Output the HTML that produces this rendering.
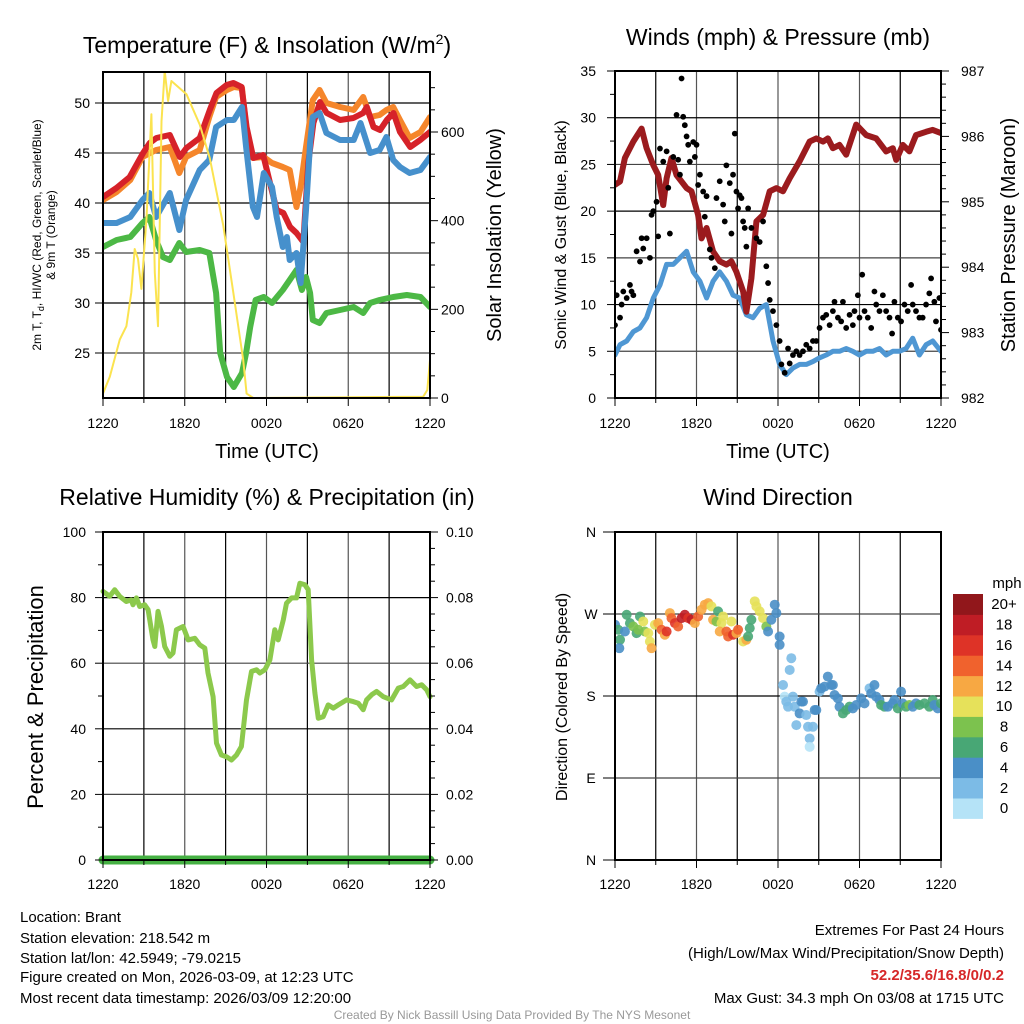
<!DOCTYPE html>
<html><head><meta charset="utf-8"><style>
html,body{margin:0;padding:0;background:#fff;}
svg{display:block;font-family:"Liberation Sans",sans-serif;}
</style></head><body>
<svg id="s" width="1024" height="1024" viewBox="0 0 1024 1024">
<defs>
<clipPath id="c1"><rect x="103" y="72" width="327" height="326"/></clipPath>
<clipPath id="c2"><rect x="615" y="71" width="326" height="327"/></clipPath>
<clipPath id="c3"><rect x="95" y="532" width="343" height="336"/></clipPath>
<clipPath id="c4"><rect x="615" y="532" width="326" height="328"/></clipPath>
</defs>
<text x="267" y="53" font-size="23" text-anchor="middle">Temperature (F) &amp; Insolation (W/m<tspan font-size="14" dy="-9">2</tspan><tspan dy="9">)</tspan></text>
<text x="778" y="45" font-size="23" text-anchor="middle">Winds (mph) &amp; Pressure (mb)</text>
<text x="267" y="505" font-size="23" text-anchor="middle">Relative Humidity (%) &amp; Precipitation (in)</text>
<text x="778" y="505" font-size="23" text-anchor="middle">Wind Direction</text>

<text transform="translate(41,235) rotate(-90)" font-size="12" text-anchor="middle">2m T, T<tspan font-size="9" dy="3">d</tspan><tspan dy="-3">, HI/WC (Red, Green, Scarlet/Blue)</tspan></text>
<text transform="translate(55,235) rotate(-90)" font-size="12" text-anchor="middle">&amp; 9m T (Orange)</text>
<text transform="translate(501,235) rotate(-90)" font-size="20" text-anchor="middle">Solar Insolation (Yellow)</text>
<text transform="translate(566,235) rotate(-90)" font-size="16" text-anchor="middle">Sonic Wind &amp; Gust (Blue, Black)</text>
<text transform="translate(1015,235) rotate(-90)" font-size="20" text-anchor="middle">Station Pressure (Maroon)</text>
<text transform="translate(43,697) rotate(-90)" font-size="22" text-anchor="middle">Percent &amp; Precipitation</text>
<text transform="translate(567,697) rotate(-90)" font-size="16" text-anchor="middle">Direction (Colored By Speed)</text>
<text x="267" y="458" font-size="20" text-anchor="middle">Time (UTC)</text>
<text x="778" y="458" font-size="20" text-anchor="middle">Time (UTC)</text>

<g font-size="15">
<text x="20" y="922">Location: Brant</text>
<text x="20" y="943">Station elevation: 218.542 m</text>
<text x="20" y="963">Station lat/lon: 42.5949; -79.0215</text>
<text x="20" y="982">Figure created on Mon, 2026-03-09, at 12:23 UTC</text>
<text x="20" y="1003">Most recent data timestamp: 2026/03/09 12:20:00</text>
</g>
<g font-size="15" text-anchor="end">
<text x="1004" y="935">Extremes For Past 24 Hours</text>
<text x="1004" y="958">(High/Low/Max Wind/Precipitation/Snow Depth)</text>
<text x="1004" y="980" fill="#d62728" font-weight="bold">52.2/35.6/16.8/0/0.2</text>
<text x="1004" y="1003">Max Gust: 34.3 mph On 03/08 at 1715 UTC</text>
</g>
<text x="512" y="1019" font-size="12" fill="#999" text-anchor="middle">Created By Nick Bassill Using Data Provided By The NYS Mesonet</text>
<g id="g"></g>
</svg>
<script>
// ---------- DATA ----------
const xTickLabels = ["1220","1820","0020","0620","1220"];
const redH = [0,0.98,1.96,2.94,3.43,3.92,4.9,5.64,6.13,7.1,7.84,8.33,9.07,9.56,10.17,10.54,11.03,11.76,12.38,12.75,13.24,13.73,14.2,14.7,15.07,15.44,15.93,16.42,17.4,18.38,19.1,19.36,19.85,20.34,20.83,21.32,21.8,22.55,23.28,24];
const redT = [40.6,41.5,42.6,45.0,46.0,46.5,46.8,44.6,45.5,46.5,49.3,51.0,51.8,52.0,51.6,47.6,44.5,44.8,41.3,39.3,39.0,37.6,37.0,36.1,44.0,48.0,50.1,49.0,48.3,48.5,49.0,49.6,47.6,47.3,48.3,49.0,47.1,45.6,46.3,47.1];
const orH = [0,1,2,2.9,3.9,4.9,5.6,6.1,7.1,7.8,8.3,9.1,9.6,10.2,10.5,11,11.8,12.4,13.2,13.7,14.2,14.5,14.9,15.4,15.9,16.4,17.4,18.4,19.1,19.6,20.3,20.8,21.3,21.8,22.5,23.3,24];
const orT = [40.3,41.1,42.3,44.6,45.3,45.6,43,44.6,45.3,48.6,50.6,51.3,51.6,51.5,47.6,44.5,44.6,44.0,43.6,43.3,39.6,41.6,45.6,50.3,51.3,50,49.6,49.3,50.6,48.6,48.8,49.3,49.6,48.3,46.5,47.1,48.6];
const blH = [0,1,2,2.9,3.4,3.9,4.9,5.6,6.1,7.1,7.8,8.3,9.1,9.6,10.2,10.5,11.0,11.3,11.8,12.4,12.75,13.2,13.5,13.7,14.2,14.5,14.9,15.2,15.4,15.9,16.4,17.4,18.4,18.9,19.6,20.3,20.8,21.3,21.8,22.5,23.3,24];
const blT = [38,38,38.6,40.3,41,38.6,41,37.3,40.3,43.3,44.3,47.6,48.3,48.3,49.6,45.6,39.6,38.6,43,41.6,38.6,35.6,36.6,34.3,35,32,39.3,46,48.6,49,47,46.3,46.3,48,45,45.3,46.6,44.3,43.6,43,43.3,44.6];
const grH = [0,1,2,2.9,3.4,3.9,4.4,4.9,5.6,6.1,7.1,7.8,8.3,8.6,9.1,9.6,10.2,10.5,10.8,11.2,11.8,12.4,13.2,13.7,14.2,14.6,14.9,15.2,15.4,15.9,16.4,17.4,18.4,19.1,19.6,20.3,21.3,22.3,23.3,24];
const grT = [35.6,36.3,36.6,38,38.6,36.3,34.6,34.3,36,35.1,35.3,35,31,25,22.6,21.6,23,25,27.6,30.3,30.6,30,31.3,32.3,33.3,31.3,32.6,31,28.3,28,29,29.3,29.6,29,30,30.3,30.6,30.8,30.6,29.6];
const solH = [0,0.5,1.23,1.72,2.08,2.33,2.57,2.82,3.19,3.55,3.8,4.04,4.29,4.53,4.78,5.02,6.13,7.1,7.84,8.82,9.56,10.29,10.54,11.03,23.5,23.8,24];
const solW = [10,48,132,162,238,336,314,246,405,640,283,162,624,738,670,715,685,617,541,390,238,86,10,0,3,18,86];
const tempTicks = [25,30,35,40,45,50];
const solTicks = [0,200,400,600];

const presH = [0,0.37,0.73,1.35,1.96,2.33,2.82,3.18,3.55,3.8,4.16,4.53,5.27,5.63,6.12,6.37,6.74,7.22,7.71,8.2,8.57,8.94,9.43,9.67,10.04,10.41,10.9,11.39,11.88,12.37,12.86,13.59,14.33,14.82,15.31,15.67,16.04,16.53,17.02,17.76,18.49,19.23,19.96,20.45,20.7,21.19,21.67,22.16,22.9,23.39,24];
const presMb = [985.26,985.31,985.67,985.92,986.12,985.82,985.56,985.41,984.95,985.36,985.67,985.41,985.21,985.16,984.80,984.44,984.60,984.24,984.09,984.04,984.09,983.93,983.63,983.32,983.83,984.70,984.80,985.16,985.21,985.16,985.36,985.62,985.92,985.97,985.92,985.97,985.82,985.87,985.72,986.18,986.02,985.97,985.77,985.82,985.64,985.87,985.77,986.02,986.07,986.10,986.05];
const windH = [0,0.37,0.86,1.35,1.84,2.33,2.82,3.31,3.8,4.29,4.78,5.27,5.76,6.25,6.74,7.22,7.71,8.2,8.69,9.18,9.67,10.16,10.65,11.14,11.63,12.12,12.61,13.1,13.59,14.08,14.57,15.06,15.55,16.04,16.53,17.02,17.51,18.0,18.49,18.98,19.47,19.96,20.45,20.94,21.43,21.92,22.41,22.9,23.39,24];
const windMph = [4.6,5.7,6.1,7.1,7.5,8.6,10.7,12.1,14.3,14.3,15.0,15.7,13.5,12.5,10.7,12.5,13.5,12.5,11.0,10.7,8.9,8.6,9.6,10.0,6.1,3.6,2.5,3.2,3.6,3.6,3.9,4.3,4.6,5.0,5.0,5.3,5.0,4.6,5.0,5.0,5.3,4.6,5.0,5.0,5.3,6.4,4.6,5.7,6.1,5.0];
const gustH = [0,0.12,0.37,0.49,0.61,0.86,1.10,1.22,1.35,1.59,1.84,1.96,2.08,2.33,2.57,2.69,2.82,3.06,3.18,3.31,3.55,3.80,3.92,4.04,4.29,4.53,4.65,4.78,4.90,5.02,5.14,5.27,5.39,5.51,5.76,5.88,6.00,6.12,6.25,6.49,6.61,6.74,6.98,7.10,7.35,7.47,7.71,7.96,8.08,8.20,8.45,8.57,8.69,8.82,8.94,9.06,9.18,9.31,9.43,9.55,9.67,9.80,10.04,10.41,10.65,10.90,11.14,11.27,11.39,11.63,11.88,12.12,12.25,12.49,12.74,12.86,13.10,13.35,13.59,13.84,14.08,14.33,14.57,14.82,15.06,15.31,15.55,15.80,16.04,16.16,16.41,16.65,16.78,17.02,17.27,17.51,17.63,17.88,18.00,18.20,18.37,18.61,18.86,19.10,19.23,19.47,19.72,19.96,20.21,20.40,20.57,20.82,21.06,21.31,21.55,21.80,21.92,22.16,22.41,22.65,22.90,23.14,23.27,23.51,23.63,23.88,24.00];
const gustMph = [7.8,11.0,8.6,10.0,11.4,10.7,12.1,11.4,11.0,15.7,14.6,17.1,16.0,17.1,15.0,19.6,20.0,21.0,17.3,26.7,25.3,26.4,22.5,17.6,25.8,30.3,25.5,23.9,34.2,30.1,29.2,28.0,27.1,25.3,27.4,25.8,27.1,22.8,23.9,22.1,19.4,21.6,15.9,15.0,13.9,21.4,23.2,20.7,18.9,24.9,23.0,17.6,23.9,28.3,22.1,20.3,21.7,21.4,18.9,18.2,16.2,20.3,18.2,17.1,16.7,18.9,14.1,12.3,10.5,9.3,7.8,6.1,3.6,2.7,5.3,3.7,4.6,5.0,4.6,5.0,5.7,5.3,6.1,6.1,7.5,8.6,8.9,7.8,9.3,10.3,8.6,8.2,10.3,7.5,8.9,7.8,9.3,11.0,8.6,13.2,9.3,8.6,7.5,11.4,10.0,9.3,11.0,9.3,8.6,6.9,10.3,8.6,8.2,10.0,9.3,12.1,10.0,9.3,8.6,8.6,10.0,11.2,12.8,10.3,8.2,10.7,7.3];
const windTicks = [0,5,10,15,20,25,30,35];
const presTicks = [982,983,984,985,986,987];

const rhH = [0,0.49,0.86,1.22,1.71,2.08,2.2,2.45,2.69,3.06,3.31,3.67,3.8,4.04,4.29,4.53,4.9,5.14,5.39,5.88,6.25,6.74,7.1,7.47,7.71,8.08,8.33,8.69,9.06,9.43,9.8,10.16,10.53,10.9,11.27,11.51,11.88,12.25,12.61,12.86,13.23,13.47,13.84,14.2,14.45,14.82,15.06,15.31,15.55,15.8,16.16,16.53,16.9,17.27,17.88,18.37,18.74,19.1,19.35,19.72,20.08,20.57,21.18,21.67,22.04,22.53,23.02,23.39,23.76,24];
const rhPct = [81.9,80.4,82.4,80.4,78.8,79.3,77.8,79.9,77.3,77.8,76.3,67.1,65.1,75.8,71.2,65.1,62.1,63.1,70.2,71.2,67.1,67.6,65.6,64.6,57,49.8,35.6,32,31.5,30.5,32,34.6,48.8,57.5,58,57,58,61,70.2,67.1,73.2,78.3,79.9,79.9,84.4,83.9,82.4,61,50.9,43.2,43.7,47.3,46.3,47.3,48.8,48.3,47.8,45.8,48.8,50.4,51.4,49.8,48.8,52.4,52.9,54.9,52.9,53.4,51.9,49.8];
const precipH = [0,24];
const precipIn = [0,0];
const rhTicks = [0,20,40,60,80,100];
const precipTicks = ["0.00","0.02","0.04","0.06","0.08","0.10"];

const dirH = [0,0.24,0.37,0.32,0.73,0.86,1.1,1.35,1.59,1.71,1.84,2.08,2.2,2.45,2.57,2.69,2.94,3.18,3.43,3.67,3.8,4.04,4.16,4.41,4.65,4.9,5.14,5.39,5.63,5.88,6.12,6.37,6.61,6.86,7.1,7.22,7.47,7.59,7.84,7.96,7.71,8.2,8.33,8.57,8.69,8.94,9.06,9.43,9.67,9.8,9.92,10.04,10.29,10.41,10.65,10.9,11.14,11.27,11.51,11.76,11.88,12.12,12.12,12.37,12.49,12.61,12.74,12.86,12.98,13.1,13.23,13.35,13.59,13.72,13.84,14.08,14.21,14.33,14.33,14.57,14.7,14.82,15.06,15.18,15.43,15.67,15.92,16.04,16.16,16.41,16.53,16.78,17.02,17.27,17.51,17.76,18.12,18.37,18.74,18.86,19.1,19.23,19.47,19.59,19.84,20.08,20.45,20.57,20.82,21.06,21.18,21.43,21.67,21.92,22.16,22.41,22.78,23.14,23.39,23.51,23.76,24];
const dirDeg = [258.2,252.7,241.7,232.5,250.8,269.2,260,256.3,249,252.7,267.3,261.8,250.8,249,239.8,232.5,258.2,260,252.7,247.2,250.8,271,265.5,260,256.3,265.5,269.2,265.5,263.7,260,267.3,274.7,280.2,282,278.4,263.7,261.8,272.9,260,267.3,250.8,250.8,245.3,261.8,247.2,249,252.7,239.8,241.7,245.3,254.5,263.7,283.9,278.4,272.9,265.5,256.3,250.8,263.7,280.2,271,245.3,236.2,192.1,179.3,173.8,168.3,208.6,221.5,179.3,168.3,148.1,160.9,173.8,173.8,159.1,146.2,133.4,124.2,146.2,164.6,164.6,184.8,188.4,190.3,201.3,192.1,192.1,181.1,177.4,168.3,160.9,164.6,168.3,166.4,170.1,177.4,171.9,188.4,182.9,192.1,179.3,175.6,170.1,168.3,168.3,171.9,175.6,166.4,184.8,171.9,168.3,170.1,168.3,171.9,170.1,171.9,168.3,175.6,170.1,166.4,171.9,159.1];
const dirSpeed = [5,7,7,5,5,7,7,9,7,9,7,11,9,11,11,13,11,13,15,13,17,13,15,17,15,19,19,17,19,13,15,13,13,13,11,13,9,7,11,11,13,15,15,11,17,13,15,11,13,7,7,7,11,11,11,11,9,5,5,5,5,5,5,3,1,3,3,3,3,3,3,3,5,5,5,3,3,3,1,3,5,5,3,5,5,5,5,5,5,5,5,7,7,7,5,5,5,5,3,5,5,5,5,7,7,5,5,5,7,5,5,7,9,5,5,7,7,7,7,5,5,7];
const dirTicks = ["N","E","S","W","N"];
const speedLabels = ["0","2","4","6","8","10","12","14","16","18","20+"];
const speedColors = ["#b5e3f7","#7cbbe6","#4a8fc7","#48a775","#7cc24e","#e6e15a","#f7a843","#f0622d","#de3327","#bf1d25","#91171b"];

// ---------- DRAW ----------
const NS="http://www.w3.org/2000/svg";
const G=document.getElementById('g');
function el(tag,attrs,parent,txt){const e=document.createElementNS(NS,tag);for(const k in attrs)e.setAttribute(k,attrs[k]);if(txt!==undefined)e.textContent=txt;(parent||G).appendChild(e);return e;}
function mkX(x0,x1){return h=>x0+h/24*(x1-x0);}
function linY(v0,v1,y0,y1){return v=>y0+(v-v0)/(v1-v0)*(y1-y0);}
function pathD(hs,vs,sx,sy){return hs.map((h,i)=>(i?'L':'M')+sx(h).toFixed(1)+','+sy(vs[i]).toFixed(1)).join('');}

function frame(x0,x1,yT,yB,hVals,sy,name){
  const sx=mkX(x0,x1);
  const g=el('g',{});
  
  
  for(let k=0;k<=8;k++){const x=sx(k*3);el('line',{x1:x,x2:x,y1:yT,y2:yB,stroke:k%2?'#000':'#555','stroke-width':1.2},g);}
  hVals.forEach((v,i)=>{const y=sy(v);el('line',{x1:x0,x2:x1,y1:y,y2:y,stroke:i%2?'#000':'#444','stroke-width':1.2},g);});
  return sx;
}
function border(x0,x1,yT,yB,name){
  const r=el('rect',{x:x0,y:yT,width:x1-x0,height:yB-yT,fill:'none',stroke:'#000','stroke-width':2});
  
  
}
function xAxis(sx,yB,ly,name){
  const g=el('g',{'font-size':14,'text-anchor':'middle'});
  
  
  for(let k=0;k<=8;k++){const x=sx(k*3);el('line',{x1:x,x2:x,y1:yB,y2:yB+(k%2?5:8),stroke:'#000'},g);}
  xTickLabels.forEach((t,i)=>{el('text',{x:sx(i*6),y:ly},g,t);});
}
function yAxisLeft(x0,ticks,labels,sy,lx,name,minor){
  const g=el('g',{'font-size':14,'text-anchor':'end'});
  
  
  ticks.forEach((v,i)=>{const y=sy(v);el('line',{x1:x0-8,x2:x0,y1:y,y2:y,stroke:'#000'},g);el('text',{x:lx,y:y+5},g,labels[i]);});
  if(minor)minor.forEach(v=>{const y=sy(v);el('line',{x1:x0-5,x2:x0,y1:y,y2:y,stroke:'#000'},g);});
}
function yAxisRight(x1,ticks,labels,sy,lx,name,minor){
  const g=el('g',{'font-size':14,'text-anchor':'start'});
  
  
  ticks.forEach((v,i)=>{const y=sy(v);el('line',{x1:x1,x2:x1+8,y1:y,y2:y,stroke:'#000'},g);el('text',{x:lx,y:y+5},g,labels[i]);});
  if(minor)minor.forEach(v=>{const y=sy(v);el('line',{x1:x1,x2:x1+5,y1:y,y2:y,stroke:'#000'},g);});
}

// Panel 1
{
  const x0=103,x1=430,yT=72,yB=398;
  const sy=linY(50,25,103,353);
  const ss=linY(0,600,398,132);
  const sx=frame(x0,x1,yT,yB,tempTicks,sy,'temperature');
  const g=el('g',{'clip-path':'url(#c1)',fill:'none','stroke-linejoin':'round','stroke-linecap':'round'});
  let p;
  p=el('path',{d:pathD(grH,grT,sx,sy),stroke:'#4cb845','stroke-width':6},g);
  
  
  p=el('path',{d:pathD(orH,orT,sx,sy),stroke:'#f5862b','stroke-width':6},g);
  
  
  p=el('path',{d:pathD(redH,redT,sx,sy),stroke:'#d62229','stroke-width':6},g);
  
  
  p=el('path',{d:pathD(blH,blT,sx,sy),stroke:'#4690cc','stroke-width':6},g);
  
  
  p=el('path',{d:pathD(solH,solW,sx,ss),stroke:'#fbe34f','stroke-width':2},g);
  
  
  border(x0,x1,yT,yB,'temperature');
  xAxis(sx,yB,428,'temperature');
  yAxisLeft(x0,tempTicks,tempTicks.map(String),sy,90,'temperature');
  yAxisRight(x1,solTicks,solTicks.map(String),ss,441,'insolation',[50,100,150,250,300,350,450,500,550,650,700]);
}
// Panel 2
{
  const x0=615,x1=941,yT=71,yB=398;
  const sy=linY(0,35,398,71);
  const sp=linY(982,987,398,71);
  const sx=frame(x0,x1,yT,yB,[5,10,15,20,25,30],sy,'winds');
  const g=el('g',{'clip-path':'url(#c2)',fill:'none','stroke-linejoin':'round','stroke-linecap':'round'});
  let p=el('path',{d:pathD(windH,windMph,sx,sy),stroke:'#4f97d3','stroke-width':5},g);
  
  
  p=el('path',{d:pathD(presH,presMb,sx,sp),stroke:'#9b1b1e','stroke-width':6},g);
  
  
  const gd=el('g',{fill:'#000'},g);
  
  
  gustH.forEach((h,i)=>{const c=el('circle',{cx:sx(h),cy:sy(gustMph[i]),r:2.9},gd);
    
    });
  border(x0,x1,yT,yB,'winds');
  xAxis(sx,yB,428,'winds');
  yAxisLeft(x0,windTicks,windTicks.map(String),sy,596,'wind',[2.5,7.5,12.5,17.5,22.5,27.5,32.5]);
  yAxisRight(x1,presTicks,presTicks.map(String),sp,961,'pressure',[982.2,982.4,982.6,982.8,983.2,983.4,983.6,983.8,984.2,984.4,984.6,984.8,985.2,985.4,985.6,985.8,986.2,986.4,986.6,986.8]);
}
// Panel 3
{
  const x0=103,x1=430,yT=532,yB=860;
  const sy=linY(0,100,860,532);
  const sq=linY(0,0.1,860,532);
  const sx=frame(x0,x1,yT,yB,[20,40,60,80],sy,'humidity');
  const g=el('g',{'clip-path':'url(#c3)',fill:'none','stroke-linejoin':'round','stroke-linecap':'round'});
  let p=el('path',{d:pathD(rhH,rhPct,sx,sy),stroke:'#8cc94c','stroke-width':5},g);
  
  
  p=el('path',{d:pathD(precipH,precipIn,sx,sq),stroke:'#45b043','stroke-width':9},g);
  
  
  border(x0,x1,yT,yB,'humidity');
  xAxis(sx,yB,889,'humidity');
  yAxisLeft(x0,rhTicks,rhTicks.map(String),sy,86,'humidity',[10,30,50,70,90]);
  yAxisRight(x1,[0,0.02,0.04,0.06,0.08,0.1],precipTicks,sq,446,'precipitation',[0.005,0.01,0.015,0.025,0.03,0.035,0.045,0.05,0.055,0.065,0.07,0.075,0.085,0.09,0.095]);
}
// Panel 4
{
  const x0=615,x1=941,yT=532,yB=860;
  const sy=linY(0,360,860,532);
  const sx=frame(x0,x1,yT,yB,[90,180,270],sy,'wind-direction');
  const g=el('g',{'clip-path':'url(#c4)'});
  
  
  dirH.forEach((h,i)=>{const b=Math.min(10,Math.floor(dirSpeed[i]/2));
    const c=el('circle',{cx:sx(h),cy:sy(dirDeg[i]),r:5,fill:speedColors[b],'fill-opacity':0.9},g);
    
    });
  border(x0,x1,yT,yB,'wind-direction');
  xAxis(sx,yB,889,'wind-direction');
  const ga=el('g',{'font-size':14,'text-anchor':'middle'});
  
  
  dirTicks.forEach((t,i)=>{const y=sy(i*90);el('line',{x1:x0-12,x2:x0,y1:y,y2:y,stroke:'#000'},ga);el('text',{x:591,y:y+5},ga,t);});
  const cb=el('g',{'font-size':15,'text-anchor':'middle'});
  
  
  el('text',{x:1007,y:588},cb,'mph');
  const top=594,bh=20.4;
  speedLabels.forEach((lab,i)=>{const j=10-i;const y=top+j*bh;
    const r=el('rect',{x:953,y:y,width:30,height:bh+0.5,fill:speedColors[i]},cb);
    
    
    el('text',{x:1004,y:y+bh/2+5},cb,lab);});
}
</script>
</body></html>
